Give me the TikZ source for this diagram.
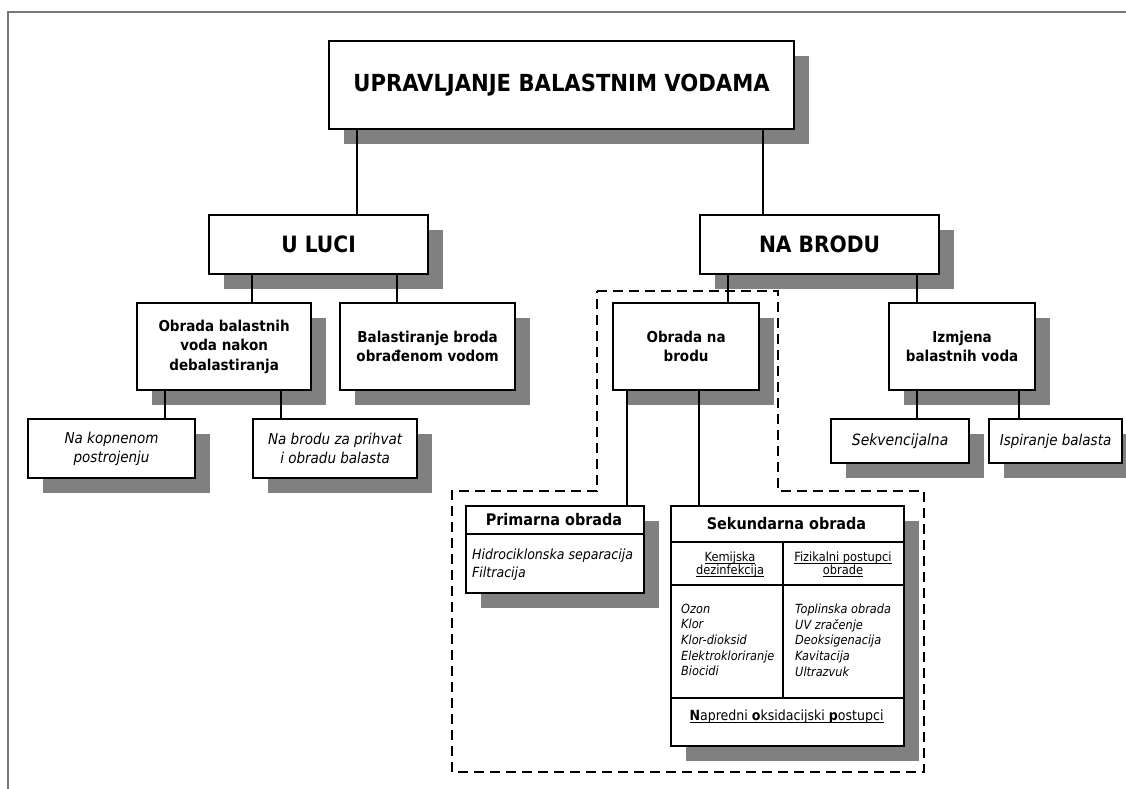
\documentclass[tikz,border=0pt]{standalone}
\usepackage{fontspec}
\setmainfont{DejaVuSansCondensed}[Extension=.ttf, BoldFont=*-Bold, ItalicFont=*-Oblique, BoldItalicFont=*-BoldOblique]
\usetikzlibrary{shadows}
\definecolor{shadowc}{RGB}{128,128,128}
\definecolor{framec}{RGB}{120,120,120}
\newcommand\fs[2]{\fontsize{#1}{#2}\selectfont}
\newcommand\myul[1]{\leavevmode\setbox0\hbox{#1}\rlap{\rule[-2.2pt]{\wd0}{0.7pt}}\box0}
\tikzset{
  bx/.style={draw=black, line width=2.2pt, fill=white, inner sep=0pt, anchor=north west, align=center,
    drop shadow={shadow xshift=15pt, shadow yshift=-15pt, fill=shadowc, opacity=1}},
  cA/.style={line width=1.8pt},
  cB/.style={line width=1.5pt},
  cC/.style={line width=1.1pt},
  inner/.style={line width=1.1pt},
  dashbox/.style={line width=1.6pt, dash pattern=on 10pt off 6pt},
  txt/.style={inner sep=0pt, align=center},
  lefttxt/.style={inner sep=0pt, align=left, anchor=west},
}
\begin{document}
\begin{tikzpicture}[x=1pt,y=-1pt]
\useasboundingbox (0,0) rectangle (1126,789);
\fill[white] (0,0) rectangle (1126,789);
% frame
\draw[framec, line width=2pt] (8,789) -- (8,12) -- (1126,12);

% dashed region
\draw[dashbox] (597,291) -- (778,291) -- (778,491) -- (924,491) -- (924,772) -- (452,772) -- (452,491) -- (597,491) -- cycle;

% boxes
\node[bx, minimum width=465pt, minimum height=88pt, font=\bfseries\fs{23.5}{28}] (title) at (328,40) {UPRAVLJANJE BALASTNIM VODAMA};
\node[bx, minimum width=219pt, minimum height=59pt, font=\bfseries\fs{22.5}{26}] (uluci) at (208,214) {U LUCI};
\node[bx, minimum width=239pt, minimum height=59pt, font=\bfseries\fs{22.5}{26}] (nabrodu) at (699,214) {NA BRODU};
\node[bx, minimum width=174pt, minimum height=87pt, font=\bfseries\fs{15}{19.5}] (obb) at (136,302) {Obrada balastnih\\voda nakon\\debalastiranja};
\node[bx, minimum width=175pt, minimum height=87pt, font=\bfseries\fs{15}{19.5}] (bal) at (339,302) {Balastiranje broda\\obrađenom vodom};
\node[bx, minimum width=146pt, minimum height=87pt, font=\bfseries\fs{15}{19.5}] (onb) at (612,302) {Obrada na\\brodu};
\node[bx, minimum width=146pt, minimum height=87pt, font=\bfseries\fs{15}{19.5}] (izm) at (888,302) {Izmjena\\balastnih voda};
\node[bx, minimum width=167pt, minimum height=59pt, font=\itshape\fs{15}{19}] (kop) at (27,418) {Na kopnenom\\postrojenju};
\node[bx, minimum width=164pt, minimum height=59pt, font=\itshape\fs{15}{19}] (prih) at (252,418) {Na brodu za prihvat\\i obradu balasta};
\node[bx, minimum width=138pt, minimum height=44pt, font=\itshape\fs{15.5}{19}] (sek) at (830,418) {Sekvencijalna};
\node[bx, minimum width=133pt, minimum height=44pt, font=\itshape\fs{15}{19}] (isp) at (988,418) {Ispiranje balasta};
\node[bx, minimum width=178pt, minimum height=87pt] (prim) at (465,505) {};
\node[bx, minimum width=233pt, minimum height=240pt] (sekund) at (670,505) {};

% connectors
\draw[cA] ([xshift=29pt]title.south west) -- ([xshift=29pt]title.south west |- uluci.north);
\draw[cA] ([xshift=435pt]title.south west) -- ([xshift=435pt]title.south west |- nabrodu.north);
\draw[cB] ([xshift=44pt]uluci.south west) -- ([xshift=44pt]uluci.south west |- obb.north);
\draw[cB] ([xshift=189pt]uluci.south west) -- ([xshift=189pt]uluci.south west |- bal.north);
\draw[cB] ([xshift=29pt]nabrodu.south west) -- ([xshift=29pt]nabrodu.south west |- onb.north);
\draw[cB] ([xshift=218pt]nabrodu.south west) -- ([xshift=218pt]nabrodu.south west |- izm.north);
\draw[cC] ([xshift=29pt]obb.south west) -- ([xshift=29pt]obb.south west |- kop.north);
\draw[cC] ([xshift=145pt]obb.south west) -- ([xshift=145pt]obb.south west |- prih.north);
\draw[cC] ([xshift=29pt]izm.south west) -- ([xshift=29pt]izm.south west |- sek.north);
\draw[cC] ([xshift=131pt]izm.south west) -- ([xshift=131pt]izm.south west |- isp.north);
\draw[cC] ([xshift=15pt]onb.south west) -- ([xshift=15pt]onb.south west |- prim.north);
\draw[cC] ([xshift=87pt]onb.south west) -- ([xshift=87pt]onb.south west |- sekund.north);

% Primarna obrada contents
\draw[inner] ([yshift=-29pt]prim.north west) -- ([yshift=-29pt]prim.north east);
\node[txt, font=\bfseries\fs{16}{18}] (primh) at (554,520) {Primarna obrada};
\node[lefttxt, font=\itshape\fs{14}{18}] (primi) at (472,565) {Hidrociklonska separacija\\Filtracija};

% Sekundarna obrada contents
\draw[inner] ([yshift=-37pt]sekund.north west) -- ([yshift=-37pt]sekund.north east);
\draw[inner] ([yshift=-80pt]sekund.north west) -- ([yshift=-80pt]sekund.north east);
\draw[inner] ([yshift=-193pt]sekund.north west) -- ([yshift=-193pt]sekund.north east);
\draw[inner] ([xshift=113pt,yshift=-37pt]sekund.north west) -- ([xshift=113pt,yshift=-193pt]sekund.north west);
\node[txt, font=\bfseries\fs{16}{19}] (sekh) at (786.5,524) {Sekundarna obrada};
\node[txt, font=\fs{12.7}{13}] (kem) at (730,564) {\myul{Kemijska}\\\myul{dezinfekcija}};
\node[txt, font=\fs{12.7}{13}] (fiz) at (843,564) {\myul{Fizikalni postupci}\\\myul{obrade}};
\node[lefttxt, font=\itshape\fs{12.6}{15.7}] (kemi) at (681,640) {Ozon\\Klor\\Klor-dioksid\\Elektrokloriranje\\Biocidi};
\node[lefttxt, font=\itshape\fs{12.6}{15.7}] (fizi) at (795,640) {Toplinska obrada\\UV zračenje\\Deoksigenacija\\Kavitacija\\Ultrazvuk};
\node[txt, font=\fs{14}{17}] (nap) at (786.5,717) {\myul{\textbf{N}apredni \textbf{o}ksidacijski \textbf{p}ostupci}};
\end{tikzpicture}
\end{document}
